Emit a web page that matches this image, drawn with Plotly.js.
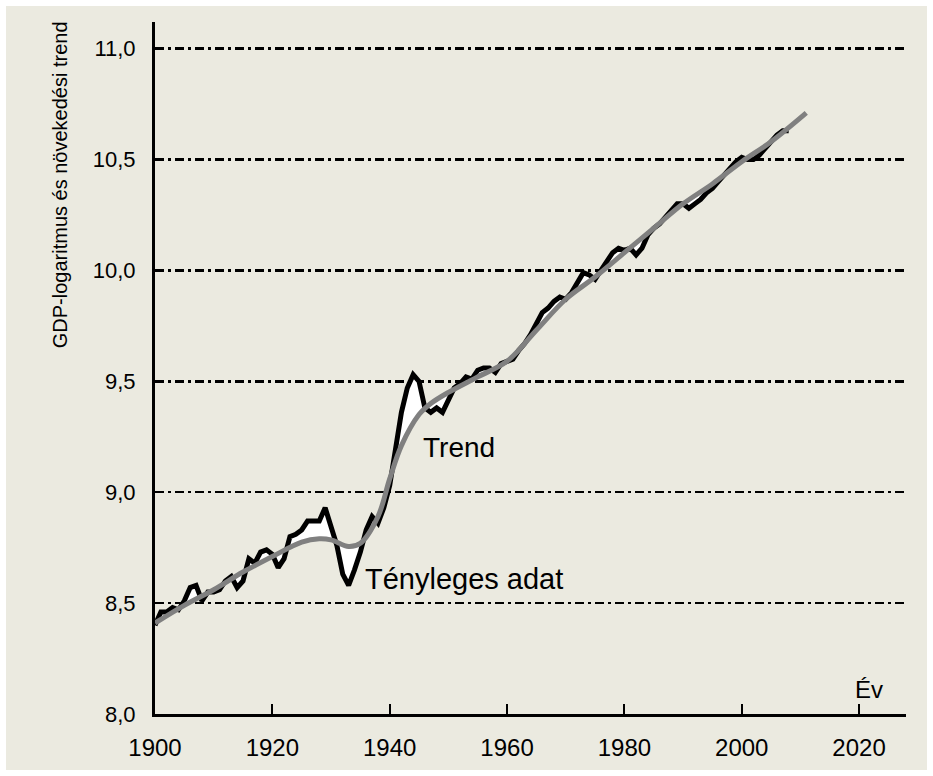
<!DOCTYPE html>
<html>
<head>
<meta charset="utf-8">
<script src="https://cdn.plot.ly/plotly-3.0.1.min.js"></script>
<style>
html,body{margin:0;padding:0;background:#ffffff;}
#chart{position:absolute;left:6px;top:6px;width:921px;height:764px;}
</style>
</head>
<body>
<div id="chart"></div>
<script>
// Actual data (log GDP), yearly
const years = [1900,1901,1902,1903,1904,1905,1906,1907,1908,1909,1910,1911,1912,1913,1914,1915,1916,1917,1918,1919,
  1920,1921,1922,1923,1924,1925,1926,1927,1928,1929,1930,1931,1932,1933,1934,1935,1936,1937,1938,1939,
  1940,1941,1942,1943,1944,1945,1946,1947,1948,1949,1950,1951,1952,1953,1954,1955,1956,1957,1958,1959,
  1960,1961,1962,1963,1964,1965,1966,1967,1968,1969,1970,1971,1972,1973,1974,1975,1976,1977,1978,1979,
  1980,1981,1982,1983,1984,1985,1986,1987,1988,1989,1990,1991,1992,1993,1994,1995,1996,1997,1998,1999,
  2000,2001,2002,2003,2004,2005,2006,2007,2008];
const actual = [8.40,8.46,8.46,8.48,8.47,8.51,8.57,8.58,8.51,8.55,8.55,8.56,8.60,8.62,8.57,8.60,8.70,8.68,8.73,8.74,
  8.72,8.66,8.70,8.80,8.81,8.83,8.87,8.87,8.87,8.93,8.84,8.76,8.63,8.58,8.65,8.73,8.83,8.89,8.86,8.93,
  9.03,9.20,9.36,9.47,9.53,9.50,9.38,9.36,9.38,9.36,9.42,9.47,9.49,9.52,9.51,9.55,9.56,9.56,9.54,9.58,
  9.59,9.60,9.64,9.67,9.71,9.76,9.81,9.83,9.86,9.88,9.87,9.90,9.95,9.99,9.98,9.96,10.00,10.04,10.08,10.10,
  10.09,10.10,10.07,10.10,10.16,10.19,10.21,10.24,10.27,10.30,10.30,10.28,10.30,10.32,10.35,10.37,10.40,10.43,10.46,10.49,
  10.51,10.50,10.50,10.52,10.55,10.58,10.61,10.63,10.63];
// Growth trend
const trendYears = [1900,1905,1910,1915,1920,1925,1928,1930,1933,1935,1938,1940,1942,1945,1947,1950,1955,1960,1965,1970,1975,1980,1985,1990,1995,2000,2005,2011];
const trend = [8.41,8.49,8.56,8.64,8.71,8.775,8.79,8.785,8.755,8.77,8.89,9.06,9.21,9.35,9.40,9.45,9.52,9.59,9.73,9.87,9.97,10.08,10.19,10.30,10.39,10.49,10.58,10.71];
const yTicks = [8.0,8.5,9.0,9.5,10.0,10.5,11.0];
const xTicks = [1900,1920,1940,1960,1980,2000,2020];

const bg = '#ebeae0';
const traces = [
  {x: years, y: actual, type:'scatter', mode:'lines', line:{color:'#000000', width:5}, hoverinfo:'skip'},
  {x: trendYears, y: trend, type:'scatter', mode:'lines', line:{color:'#808080', width:5, shape:'spline', smoothing:1},
   fill:'tonexty', fillcolor:'#ffffff', hoverinfo:'skip'}
];
const layout = {
  width:921, height:764,
  paper_bgcolor:bg, plot_bgcolor:bg,
  separators:', ',
  showlegend:false,
  margin:{l:149, r:21, t:16, b:56},
  font:{family:'Liberation Sans, Arial, sans-serif', color:'#000'},
  xaxis:{range:[1900,2028], tickvals:xTicks, ticktext:xTicks.map(String), ticks:'inside', ticklen:10, tickwidth:2, tickcolor:'#000',
    showline:true, linecolor:'#000', linewidth:3, showgrid:false, zeroline:false, ticklabelstandoff:10,
    tickfont:{size:24}},
  yaxis:{range:[8,11.12], tickvals:yTicks, tickformat:'.1f', ticks:'', showline:true, linecolor:'#000', linewidth:3,
    showgrid:true, gridcolor:'#000', gridwidth:2.5, griddash:'9px,4px,3px,4px', zeroline:false, ticklabelstandoff:12,
    tickfont:{size:22}},
  annotations:[
    {xref:'paper', yref:'paper', x:-0.127, y:0.765, text:'GDP-logaritmus és növekedési trend', textangle:-90, showarrow:false,
      font:{size:20}, xanchor:'center', yanchor:'middle'},
    {x:1951.8, y:9.2, text:'Trend', showarrow:false, font:{size:28}},
    {x:1935.5, y:8.61, text:'Tényleges adat', showarrow:false, xanchor:'left', font:{size:29}},
    {x:2024.5, y:8.11, text:'Év', showarrow:false, xanchor:'right', font:{size:24}}
  ]
};
Plotly.newPlot('chart', traces, layout, {staticPlot:true});
</script>
</body>
</html>
